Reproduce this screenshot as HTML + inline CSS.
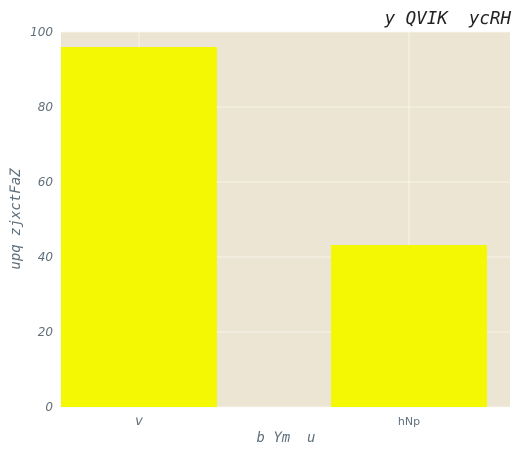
<!DOCTYPE html>
<html><head><meta charset="utf-8"><style>
body{margin:0;background:#fff;width:520px;height:455px;overflow:hidden}
svg text{fill:#5f6f7b;white-space:pre}
</style></head><body>
<svg id="chart" width="520" height="455">
<rect x="61" y="32" width="449" height="375" fill="#ede5d3"/>
<g id="grid"></g><g id="bars"></g><g id="ticks"></g>
<text x="511" y="24" text-anchor="end" font-family="DejaVu Sans Mono, monospace" font-style="italic" font-size="17.5" style="fill:#222">y QVIK  ycRH</text>
<text x="286" y="442" text-anchor="middle" font-family="DejaVu Sans Mono, monospace" font-style="italic" font-size="14">b Ym  u</text>
<text transform="translate(20,219) rotate(-90)" text-anchor="middle" font-family="DejaVu Sans Mono, monospace" font-style="italic" font-size="14">upq zjxctFaZ</text>
</svg>
<script>
const categories=["v","hNp"];
const values=[96,43.2];
const yTicks=[0,20,40,60,80,100];
const NS="http://www.w3.org/2000/svg";
const y=v=>407-v*3.75;
const x=i=>139+270*i;
const bw=156;
function mk(t,a,p){const e=document.createElementNS(NS,t);for(const k in a)e.setAttribute(k,a[k]);document.getElementById(p).appendChild(e);return e;}
yTicks.forEach(t=>{
 const g=mk('line',{x1:61,x2:510,y1:y(t),y2:y(t),stroke:'#fbf8f2','stroke-width':0.8},'grid');
 
 
 const l=mk('text',{x:53,y:y(t)+4,'text-anchor':'end','font-family':'DejaVu Sans, sans-serif','font-style':'italic','font-size':12},'ticks');
 l.textContent=t;
 
 
});
categories.forEach((c,i)=>{
 const g=mk('line',{x1:x(i),x2:x(i),y1:32,y2:407,stroke:'#fbf8f2','stroke-width':0.8},'grid');
 
 
 const b=mk('rect',{x:x(i)-bw/2,y:y(values[i]),width:bw,height:407-y(values[i]),fill:'#f4f802'},'bars');
 
 
 const l=mk('text',{x:x(i),y:425,'text-anchor':'middle','font-family':'DejaVu Sans, sans-serif','font-style':i==0?'italic':'normal','font-size':i==0?13:11},'ticks');
 l.textContent=c;
 
 
});
</script>
</body></html>
